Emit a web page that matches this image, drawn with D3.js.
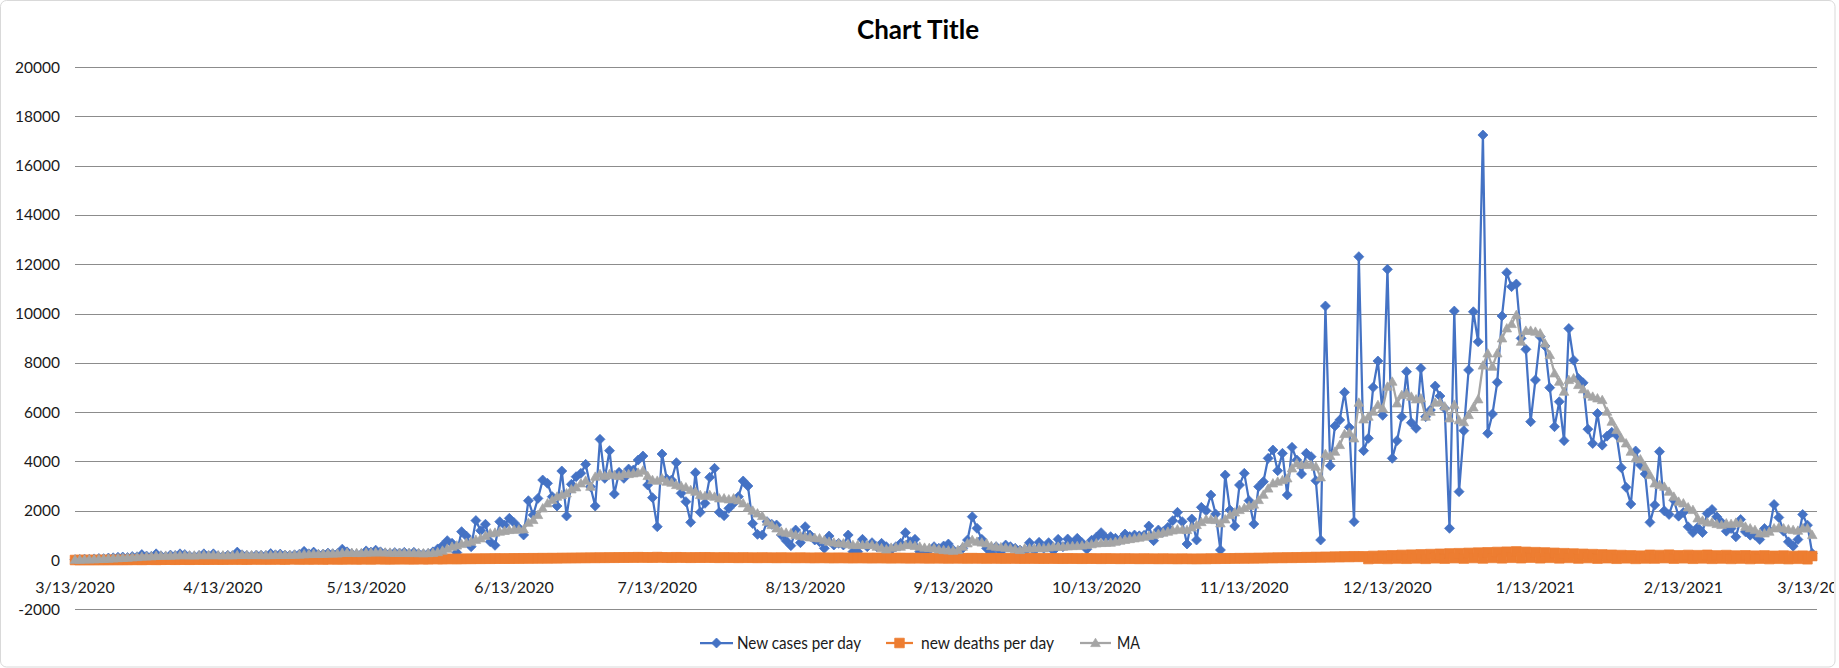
<!DOCTYPE html>
<html><head><meta charset="utf-8">
<script src="https://cdnjs.cloudflare.com/ajax/libs/d3/7.8.5/d3.min.js"></script>
<style>
html,body{margin:0;padding:0;background:#fff;}
svg{display:block;}
</style></head>
<body>
<svg id="chart" width="1839" height="668"></svg>
<script>
// ---------- DATA ----------
const chartTitle = "Chart Title";
const startDate = "3/13/2020";
const endDate = "3/13/2021";
const tickLabels = ["3/13/2020","4/13/2020","5/13/2020","6/13/2020","7/13/2020","8/13/2020",
  "9/13/2020","10/13/2020","11/13/2020","12/13/2020","1/13/2021","2/13/2021","3/13/2021"];
const yTicks = [-2000,0,2000,4000,6000,8000,10000,12000,14000,16000,18000,20000];
const seriesNames = ["New cases per day","new deaths per day","MA"];

const newCases = [
15,20,35,30,45,60,55,80,90,110,
120,100,140,130,220,160,150,250,170,140,
200,180,250,220,160,150,180,250,170,250,
160,150,190,170,320,210,180,160,200,190,
180,260,210,240,200,190,210,230,350,250,
320,220,240,280,250,260,440,330,250,230,
240,370,320,400,330,280,260,300,280,310,
260,310,250,240,260,330,450,580,785,680,
300,1150,970,540,1600,1190,1450,745,595,1555,
1420,1690,1515,1300,1015,2405,1825,2500,3245,3110,
2570,2190,3610,1785,3070,3380,3515,3880,2975,2190,
4895,3313,4436,2678,3555,3313,3690,3650,4056,4218,
3042,2530,1352,4300,3286,3245,3948,2706,2367,1528,
3542,1934,2300,3353,3719,1934,1798,2096,2300,2570,
3205,3002,1480,1040,1014,1555,1447,1420,1014,784,
582,1217,703,1352,1014,811,744,473,973,609,
676,609,1014,338,338,838,541,703,541,676,
541,406,541,676,1109,744,838,338,297,406,
541,473,568,649,406,338,473,811,1758,1285,
838,473,297,541,338,609,541,473,406,338,
703,379,717,473,703,379,838,541,852,676,
879,700,433,800,920,1109,900,947,880,820,
1055,950,1014,980,1000,1379,784,1217,1150,1325,
1596,1934,1555,649,1663,811,2136,2000,2637,1866,
406,3448,2028,1379,3042,3516,2407,1460,2975,3178,
4124,4462,3624,4327,2637,4571,4057,3489,4327,4192,
3218,811,10304,3827,5437,5680,6802,5382,1555,12305,
4435,4936,7005,8073,5869,11792,4124,4841,5814,7640,
5571,5342,7775,5814,6085,7058,6653,6153,1285,10100,
2772,5247,7708,10070,8853,17241,5139,5923,7208,9899,
11657,11089,11197,8992,8546,5612,7303,9061,8682,6991,
5409,6423,4841,9391,8107,7363,7187,5308,4727,5944,
4660,5025,5180,5071,3746,2948,2272,4422,3854,3489,
1528,2231,4395,1996,1846,2428,1779,1928,1346,1116,
1319,1116,1887,2049,1752,1528,1170,1279,940,1643,
1143,1008,1008,832,1279,1211,2252,1725,1170,737,
562,832,1846,1414,264
];

const newDeaths = [
0,0,1,0,2,1,3,2,4,3,
5,4,7,8,5,9,11,6,10,13,
12,9,15,14,10,17,19,13,16,21,
18,15,24,20,26,19,17,25,28,22,
27,20,31,24,19,30,33,23,29,26,
25,34,22,28,36,24,31,27,38,25,
30,35,26,33,40,27,32,29,41,31,
36,28,42,33,30,45,38,34,48,39,
44,40,52,43,55,47,58,49,62,53,
60,54,66,57,70,61,73,64,77,65,
80,68,85,72,88,75,92,79,96,83,
100,86,104,90,108,93,111,97,115,99,
110,95,118,101,106,92,112,98,104,90,
107,93,110,96,101,88,105,91,99,86,
102,89,97,84,100,87,95,82,98,85,
93,80,96,83,90,78,94,81,88,76,
91,79,86,74,89,77,84,72,87,75,
82,70,85,73,80,68,83,71,78,66,
81,69,76,64,79,67,74,62,77,65,
72,60,75,63,70,58,73,61,68,56,
71,59,66,54,69,57,64,52,67,55,
62,50,65,53,60,48,63,51,58,46,
61,49,56,44,59,47,54,42,57,45,
52,40,55,43,50,38,53,41,60,48,
66,52,70,58,75,61,80,65,86,70,
92,76,98,81,104,86,110,91,117,97,
124,103,131,108,138,114,145,120,152,126,
150,40,165,55,178,45,190,60,205,50,
215,65,228,48,240,70,252,55,265,75,
276,58,288,80,300,62,312,85,325,68,
335,90,348,72,330,95,318,70,305,88,
290,66,276,84,262,60,250,78,238,55,
225,72,212,50,200,68,188,46,176,62,
210,60,200,75,215,55,190,70,205,50,
195,65,210,48,185,60,200,45,180,58,
190,40,175,55,185,38,170,50,180,35,
165,48,175,30,160
];

const movingAvg = [
10,15,20,25,30,40,45,55,65,75,
85,95,110,120,140,145,150,170,175,175,
180,185,195,195,190,185,195,200,195,200,
195,190,195,190,205,210,205,200,205,200,
195,200,205,210,210,210,215,220,235,240,
250,245,250,260,265,265,290,295,290,285,
285,300,305,310,310,305,300,290,290,290,
285,285,280,275,280,290,320,380,460,541,
590,649,700,744,820,879,980,1082,1110,1150,
1180,1217,1230,1240,1244,1514,1623,1826,2096,2299,
2434,2570,2637,2705,2867,2949,3110,3218,2975,3380,
3489,3408,3489,3448,3408,3489,3489,3516,3543,3624,
3408,3245,3218,3313,3178,3137,3043,3002,2949,2840,
2773,2637,2597,2637,2570,2502,2502,2461,2502,2420,
2300,2130,2002,1890,1785,1555,1420,1285,1150,1110,
1082,1014,980,947,920,900,879,811,744,710,
676,676,640,609,609,609,609,609,541,480,
433,500,520,541,609,609,570,541,500,490,
473,433,406,390,379,406,540,676,811,744,
710,676,568,541,520,500,473,440,406,473,
473,473,500,473,510,541,541,541,555,568,
568,590,609,640,676,690,700,703,740,784,
820,850,879,910,947,980,1014,1060,1109,1150,
1200,1244,1230,1217,1320,1420,1540,1650,1640,1622,
1488,1650,1826,1930,2028,2110,2191,2250,2434,2650,
2900,3110,3178,3240,3313,3719,3922,3854,3895,3854,
3787,3354,4301,4220,4395,4666,5112,5166,4936,6383,
5707,5815,6017,6288,6153,7032,7235,6356,6694,6761,
6626,6518,6558,5815,6017,6390,6390,6230,5747,6300,
5670,5590,5882,6190,6520,7890,8384,7843,8384,8992,
9398,9574,9939,8857,9303,9303,9263,9195,8790,8317,
7573,7235,6829,7303,7370,7100,6924,6721,6626,6558,
6490,6017,5612,5274,4936,4733,4395,4124,4084,3787,
3449,3110,3043,2975,2772,2569,2367,2299,2137,2029,
1691,1596,1529,1529,1461,1420,1488,1461,1515,1488,
1352,1285,1217,1082,1082,1150,1285,1325,1285,1244,
1217,1190,1285,1285,1014
];

// ---------- CHART ----------
const W = 1839, H = 668;
const plot = {left: 75, right: 1817, top: 67, bottom: 609.3};
const colors = ["#4472C4", "#ED7D31", "#A5A5A5"];
const parse = d3.timeParse("%m/%d/%Y");
const t0 = parse(startDate), t1 = parse(endDate);

const x = d3.scaleTime().domain([t0, t1]).range([plot.left, plot.right]);
const y = d3.scaleLinear().domain([-2000, 20000]).range([plot.bottom, plot.top]);

const svg = d3.select("#chart");
const defs = svg.append("defs");
defs.append("clipPath").attr("id", "chartClip")
  .append("rect").attr("x", 0).attr("y", 0).attr("width", 1834).attr("height", H);

// outer border
svg.append("rect").attr("x", 0.5).attr("y", 0.5).attr("width", 1834.5).attr("height", 666.5)
  .attr("rx", 6).attr("fill", "#fff").attr("stroke", "#d9d9d9").attr("stroke-width", 1);

// title
svg.append("text").attr("x", 918).attr("y", 38.5).attr("text-anchor", "middle")
  .style("font-family", "Lato, 'Open Sans', sans-serif").style("font-weight", "700")
  .style("font-size", "26px").attr("fill", "#000").text(chartTitle);

// gridlines
svg.append("g").selectAll("line").data(yTicks).join("line")
  .attr("x1", plot.left).attr("x2", plot.right)
  .attr("y1", d => Math.round(y(d)) + 0.5).attr("y2", d => Math.round(y(d)) + 0.5)
  .attr("stroke", "#8c8c8c").attr("stroke-width", 1);

// y labels
svg.append("g").selectAll("text").data(yTicks).join("text")
  .attr("x", 60).attr("y", d => y(d)).attr("dy", "0.36em").attr("text-anchor", "end")
  .style("font-family", "Lato, 'Open Sans', sans-serif").style("font-size", "15.5px")
  .attr("fill", "#1a1a1a").text(d => d);

// x labels (last one is cut at the chart edge, as in the original)
svg.append("g").attr("clip-path", "url(#chartClip)").selectAll("text").data(tickLabels).join("text")
  .attr("x", d => x(parse(d))).attr("y", 592.5).attr("text-anchor", "middle")
  .style("font-family", "Lato, 'Open Sans', sans-serif").style("font-size", "16px")
  .attr("fill", "#1a1a1a").text(d => d);

// series
const dates = newCases.map((_, i) => d3.timeDay.offset(t0, i));
const seriesData = [newCases, newDeaths, movingAvg];
const markerPaths = [
  "M0,-5L5,0L0,5L-5,0Z",
  "M-4.8,-4.8L4.8,-4.8L4.8,4.8L-4.8,4.8Z",
  "M0,-4.8L4.8,3.6L-4.8,3.6Z"
];
const line = d3.line().x((d, i) => x(dates[i])).y(d => y(d));

seriesData.forEach((vals, s) => {
  const g = svg.append("g");
  g.append("path").datum(vals).attr("d", line).attr("fill", "none")
    .attr("stroke", colors[s]).attr("stroke-width", 2.25).attr("stroke-linejoin", "round");
  g.selectAll("path.m").data(vals).join("path").attr("class", "m")
    .attr("transform", (d, i) => `translate(${x(dates[i])},${y(d)})`)
    .attr("d", markerPaths[s]).attr("fill", colors[s]).attr("stroke", colors[s]).attr("stroke-width", 0.75);
});

// legend
const legendItems = [
  {lx1: 700, lx2: 733, tx: 737, tl: 124},
  {lx1: 886, lx2: 913, tx: 921, tl: 133},
  {lx1: 1080, lx2: 1111, tx: 1117, tl: 23}
];
const lg = svg.append("g");
legendItems.forEach((it, s) => {
  const cy = 643;
  lg.append("line").attr("x1", it.lx1).attr("x2", it.lx2).attr("y1", cy).attr("y2", cy)
    .attr("stroke", colors[s]).attr("stroke-width", 2.25);
  lg.append("path").attr("transform", `translate(${(it.lx1 + it.lx2) / 2},${cy})`)
    .attr("d", markerPaths[s]).attr("fill", colors[s]).attr("stroke", colors[s]).attr("stroke-width", 0.75);
  lg.append("text").attr("x", it.tx).attr("y", cy).attr("dy", "0.36em")
    .attr("textLength", it.tl).attr("lengthAdjust", "spacingAndGlyphs")
    .style("font-family", "Lato, 'Open Sans', sans-serif")
    .style("font-size", "16.5px").attr("fill", "#1a1a1a").text(seriesNames[s]);
});
</script>
</body></html>
